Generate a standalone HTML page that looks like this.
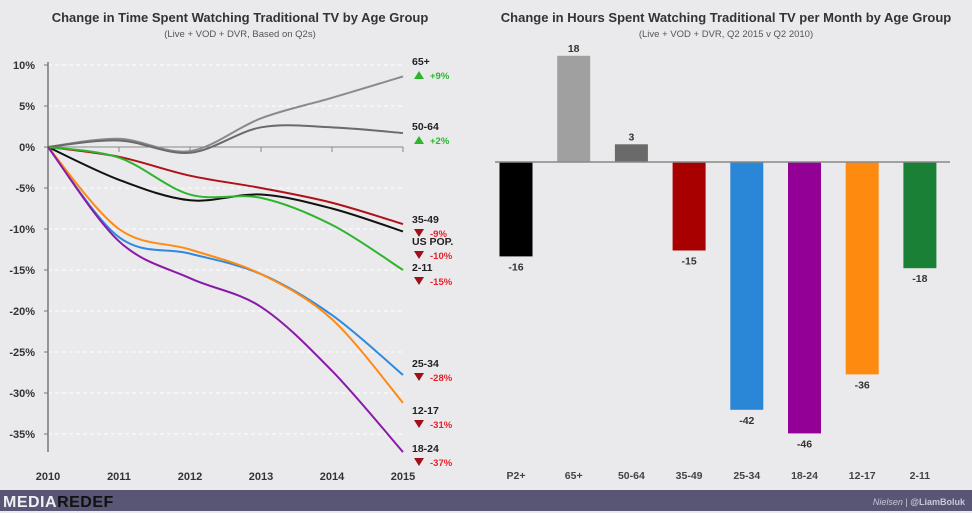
<!DOCTYPE html>
<html><head><meta charset="utf-8"><style>
body{margin:0;width:972px;height:513px;background:#eaeaec;font-family:"Liberation Sans",sans-serif;overflow:hidden}
svg{position:absolute;left:0;top:0}
</style></head><body>
<svg width="972" height="513" viewBox="0 0 972 513">
<rect x="0" y="0" width="972" height="513" fill="#eaeaec"/>
<g id="left"></g>
<g id="right"></g>
<g>
<rect x="0" y="490" width="972" height="21" fill="#585674"/>
<text x="3" y="507" font-size="16" font-weight="bold" fill="#f0f0f0" letter-spacing="0.5">MEDIA<tspan fill="#111">REDEF</tspan></text>
<text x="965" y="505" font-size="9" fill="#c8c8d8" text-anchor="end"><tspan font-style="italic">Nielsen</tspan>  |  <tspan font-weight="bold">@LiamBoluk</tspan></text>
</g>
</svg>
<script>
const years=[2010,2011,2012,2013,2014,2015];
const yTicks=[10,5,0,-5,-10,-15,-20,-25,-30,-35];
const s65=[0,1,-0.5,3.5,6,8.6];
const s5064=[0,0.8,-0.7,2.4,2.4,1.7];
const s3549=[0,-1.2,-3.5,-5,-6.8,-9.4];
const sUS=[0,-4,-6.5,-5.8,-7.5,-10.3];
const s211=[0,-1.3,-5.8,-6.2,-9.5,-15];
const s2534=[0,-11,-13,-15.5,-20.5,-27.8];
const s1217=[0,-10,-12.5,-15.5,-21,-31.2];
const s1824=[0,-11.5,-16,-19.5,-27.3,-37.2];
const barCats=["P2+","65+","50-64","35-49","25-34","18-24","12-17","2-11"];
const barVals=[-16,18,3,-15,-42,-46,-36,-18];
const NS="http://www.w3.org/2000/svg";
function mk(parent,tag,attrs,txt){const e=document.createElementNS(NS,tag);for(const k in attrs)e.setAttribute(k,attrs[k]);if(txt!==undefined)e.textContent=txt;parent.appendChild(e);return e;}
const L=document.getElementById('left'),R=document.getElementById('right');
// Left chart
const xS=y=>48+(y-2010)*71;
const yS=v=>147-v*8.2;
let t=mk(L,'text',{x:240,y:22,'font-size':13,'font-weight':'bold',fill:'#333','text-anchor':'middle'},'Change in Time Spent Watching Traditional  TV by Age Group');

t=mk(L,'text',{x:240,y:37,'font-size':9.5,fill:'#555','text-anchor':'middle'},'(Live + VOD + DVR, Based on Q2s)');

yTicks.forEach(v=>{
 const g=mk(L,'line',{x1:48,x2:403,y1:yS(v),y2:yS(v),stroke:'#fff','stroke-dasharray':'4,3','stroke-width':1});
 
 const tl=mk(L,'text',{x:35,y:yS(v)+4,'font-size':11,'font-weight':'bold',fill:'#333','text-anchor':'end'},v+'%');
 
 const tk=mk(L,'line',{x1:44,x2:48,y1:yS(v),y2:yS(v),stroke:'#777'});
 
});
let a=mk(L,'line',{x1:48,x2:48,y1:62,y2:452,stroke:'#777','stroke-width':1.5});

a=mk(L,'line',{x1:48,x2:403,y1:147,y2:147,stroke:'#888','stroke-width':1});

years.forEach(y=>{
 if(y>2010){const tk=mk(L,'line',{x1:xS(y),x2:xS(y),y1:147,y2:152,stroke:'#888'});}
 const tl=mk(L,'text',{x:xS(y),y:480,'font-size':11,'font-weight':'bold',fill:'#333','text-anchor':'middle'},String(y));
 
});
function path(vals){
 const p=vals.map((v,i)=>[xS(years[i]),yS(v)]);
 let d='M'+p[0][0]+','+p[0][1];
 for(let i=0;i<p.length-1;i++){
  const p0=p[Math.max(0,i-1)],p1=p[i],p2=p[i+1],p3=p[Math.min(p.length-1,i+2)];
  const c1=[p1[0]+(p2[0]-p0[0])/6,p1[1]+(p2[1]-p0[1])/6],c2=[p2[0]-(p3[0]-p1[0])/6,p2[1]-(p3[1]-p1[1])/6];
  d+=' C'+c1+' '+c2+' '+p2;
 }
 return d;
}
const series=[[s65,'#8a8a8a','line-65-plus'],[s5064,'#6a6a6a','line-50-64'],[s3549,'#b01018','line-35-49'],[sUS,'#111','line-us-pop'],[s211,'#2db52d','line-2-11'],[s2534,'#2d8ae0','line-25-34'],[s1217,'#ff8a12','line-12-17'],[s1824,'#8a1aa8','line-18-24']];
series.forEach(s=>{const e=mk(L,'path',{d:path(s[0]),fill:'none',stroke:s[1],'stroke-width':2});});
const labels=[['65+','+9%',true,65],['50-64','+2%',true,130],['35-49','-9%',false,223],['US POP.','-10%',false,245],['2-11','-15%',false,271],['25-34','-28%',false,367],['12-17','-31%',false,414],['18-24','-37%',false,452]];
labels.forEach(l=>{
 const g=mk(L,'g',{});
 mk(g,'text',{x:412,y:l[3],'font-size':10.5,'font-weight':'bold',fill:'#222'},l[0]);
 const y2=l[3]+14;
 if(l[2])mk(g,'path',{d:`M414,${y2} l5,-8 l5,8z`,fill:'#2db52d'});else mk(g,'path',{d:`M414,${y2-8} l10,0 l-5,8z`,fill:'#a01018'});
 mk(g,'text',{x:430,y:y2,'font-size':9.5,'font-weight':'bold',fill:l[2]?'#2db52d':'#e8202a'},l[1]);
});
// Right chart
const base=162,k=5.9;
const bx=i=>516+i*57.7;
t=mk(R,'text',{x:726,y:22,'font-size':13,'font-weight':'bold',fill:'#333','text-anchor':'middle'},'Change in Hours Spent Watching Traditional  TV per Month by Age Group');

t=mk(R,'text',{x:726,y:37,'font-size':9.5,fill:'#555','text-anchor':'middle'},'(Live + VOD + DVR, Q2 2015 v Q2 2010)');

const colors=['#000','#a0a0a0','#6a6a6a','#a80000','#2a86d6','#920096','#ff8a10','#1a8036'];
barVals.forEach((v,i)=>{
 const h=Math.abs(v)*k,y=v>=0?base-h:base;
 const r=mk(R,'rect',{x:bx(i)-16.5,y:y,width:33,height:h,fill:colors[i]});
 
 const tl=mk(R,'text',{x:bx(i),y:v>=0?y-4:y+h+14,'font-size':10.5,'font-weight':'bold',fill:'#333','text-anchor':'middle'},String(v));
 
 const cl=mk(R,'text',{x:bx(i),y:479,'font-size':10.5,'font-weight':'bold',fill:'#444','text-anchor':'middle'},barCats[i]);
 
});
a=mk(R,'line',{x1:495,x2:950,y1:base,y2:base,stroke:'#888','stroke-width':1.5});

</script>
</body></html>
